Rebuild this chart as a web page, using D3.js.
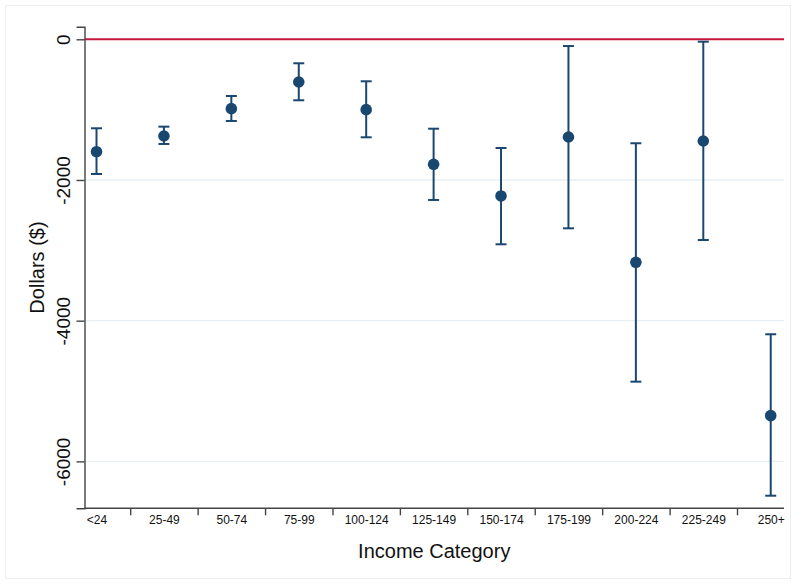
<!DOCTYPE html>
<html>
<head>
<meta charset="utf-8">
<script src="https://cdn.jsdelivr.net/npm/d3@7"></script>
<style>
  html, body { margin: 0; padding: 0; background: #ffffff; }
  svg { display: block; font-family: "Liberation Sans", Arial, sans-serif; }
</style>
</head>
<body>
<svg id="chart" width="796" height="584"></svg>
<script>
// Income categories (thousands of dollars)
const categories = ["<24", "25-49", "50-74", "75-99", "100-124", "125-149",
                    "150-174", "175-199", "200-224", "225-249", "250+"];
// Point estimates (dollars)
const estimates = [-1598, -1375, -986, -607, -1000, -1777, -2227, -1389, -3170, -1446, -5350];
// Upper bound of confidence interval
const upperCI = [-1265, -1242, -806, -341, -597, -1271, -1545, -96, -1478, -34, -4193];
// Lower bound of confidence interval
const lowerCI = [-1915, -1488, -1161, -867, -1393, -2284, -2914, -2687, -4867, -2853, -6488];
// Y axis tick values
const yTicks = [0, -2000, -4000, -6000];

const svg = d3.select("#chart");
const navy = "#1a476f";

// faint outer frame
svg.append("rect")
  .attr("x", 5.5).attr("y", 5.5)
  .attr("width", 785).attr("height", 573)
  .attr("fill", "none").attr("stroke", "#eeeeee").attr("stroke-width", 1);

const plotLeft = 84.5, plotRight = 784, plotTop = 26.7, plotBottom = 508.3;

// category index scale (1..11)
const x = d3.scaleLinear().domain([0.822, 11.197]).range([plotLeft, plotRight]);
const y = d3.scaleLinear().domain([-6667, 179]).range([plotBottom, plotTop]);

// gridlines
svg.append("g")
  .selectAll("line")
  .data(yTicks.filter(d => d !== 0))
  .join("line")
  .attr("x1", plotLeft).attr("x2", plotRight)
  .attr("y1", d => y(d)).attr("y2", d => y(d))
  .attr("stroke", "#e9f0f3").attr("stroke-width", 1.3);

// zero reference line
svg.append("line")
  .attr("x1", plotLeft).attr("x2", plotRight)
  .attr("y1", y(0)).attr("y2", y(0))
  .attr("stroke", "#c8173f").attr("stroke-width", 2);

// y axis
const yAxis = svg.append("g")
  .attr("transform", `translate(${plotLeft},0)`)
  .call(d3.axisLeft(y).tickValues(yTicks).tickSize(8).tickFormat(d3.format("d")));
yAxis.select(".domain").attr("stroke", "#444").attr("stroke-width", 1.4);
yAxis.selectAll(".tick line").attr("stroke", "#444").attr("stroke-width", 1.4);
yAxis.selectAll(".tick text")
  .attr("transform", "rotate(-90)")
  .attr("x", 0).attr("y", -14.5).attr("dy", 0)
  .attr("text-anchor", "middle")
  .attr("font-size", 19).attr("fill", "#111")
  .text(d => String(d));

// x axis: ticks at category boundaries
const boundaries = d3.range(1.5, categories.length, 1);
const xAxis = svg.append("g")
  .attr("transform", `translate(0,${plotBottom})`)
  .call(d3.axisBottom(x).tickValues(boundaries).tickSize(7).tickFormat(""));
xAxis.select(".domain").attr("stroke", "#444").attr("stroke-width", 1.4)
  .attr("d", `M${plotLeft},0H${plotRight}`);
xAxis.selectAll(".tick line").attr("stroke", "#444").attr("stroke-width", 1.4);

// x axis: category labels at centers
const xLabels = svg.append("g")
  .attr("transform", `translate(0,${plotBottom})`)
  .call(d3.axisBottom(x)
    .tickValues(d3.range(1, categories.length + 1))
    .tickSize(0)
    .tickFormat(i => categories[i - 1]));
xLabels.select(".domain").remove();
xLabels.selectAll(".tick text")
  .attr("y", 16).attr("dy", 0)
  .attr("font-size", 12).attr("fill", "#111");

// axis titles
svg.append("text")
  .attr("transform", "translate(44,267.5) rotate(-90)")
  .attr("text-anchor", "middle")
  .attr("font-size", 20).attr("fill", "#111")
  .text("Dollars ($)");

svg.append("text")
  .attr("x", (plotLeft + plotRight) / 2).attr("y", 557.5)
  .attr("text-anchor", "middle")
  .attr("font-size", 20).attr("fill", "#111")
  .text("Income Category");

// error bars
const rows = categories.map((c, i) => ({
  idx: i + 1, est: estimates[i], hi: upperCI[i], lo: lowerCI[i]
}));
const capHalf = 5.5;
const bars = svg.append("g")
  .attr("stroke", navy).attr("stroke-width", 2).attr("fill", "none");
bars.selectAll("line.v").data(rows).join("line").attr("class", "v")
  .attr("x1", d => x(d.idx)).attr("x2", d => x(d.idx))
  .attr("y1", d => y(d.hi)).attr("y2", d => y(d.lo));
bars.selectAll("line.hi").data(rows).join("line").attr("class", "hi")
  .attr("x1", d => x(d.idx) - capHalf).attr("x2", d => x(d.idx) + capHalf)
  .attr("y1", d => y(d.hi)).attr("y2", d => y(d.hi));
bars.selectAll("line.lo").data(rows).join("line").attr("class", "lo")
  .attr("x1", d => x(d.idx) - capHalf).attr("x2", d => x(d.idx) + capHalf)
  .attr("y1", d => y(d.lo)).attr("y2", d => y(d.lo));

// point estimates
svg.append("g").selectAll("circle").data(rows).join("circle")
  .attr("cx", d => x(d.idx)).attr("cy", d => y(d.est))
  .attr("r", 5.8).attr("fill", navy);
</script>
</body>
</html>
